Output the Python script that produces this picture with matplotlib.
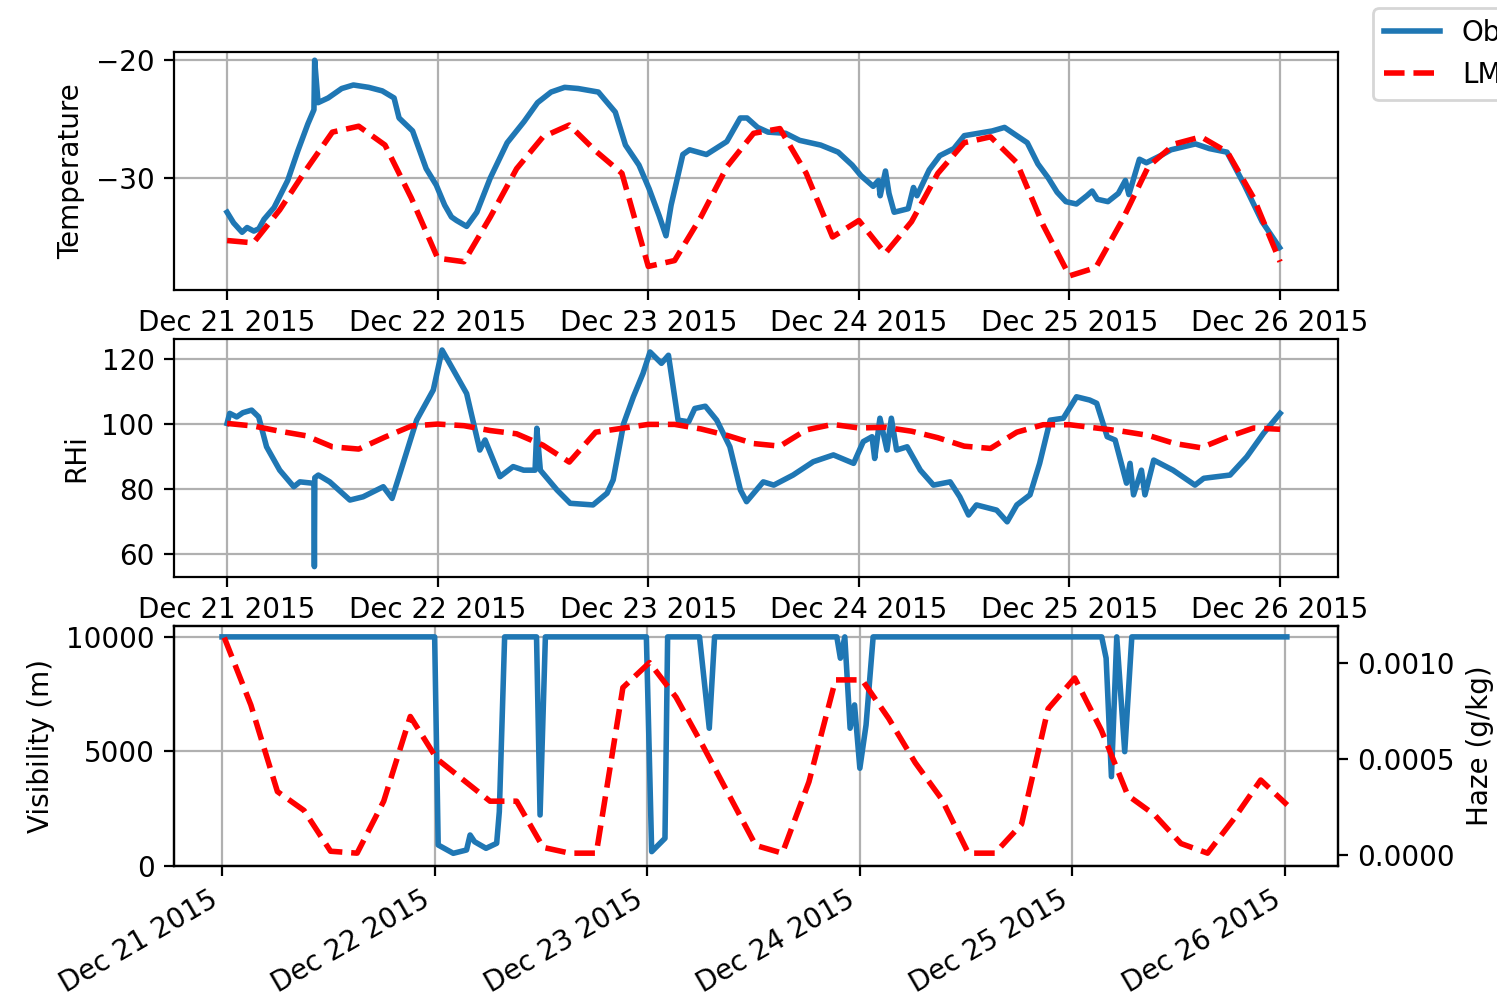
import numpy as np
import pandas as pd
import matplotlib
matplotlib.use('Agg')
import matplotlib.pyplot as plt
import matplotlib.dates as mdates

start = pd.Timestamp('2015-12-21')

# observed temperature (hours since start, degC)
obs_temp_h = [0.0, 0.74, 1.71, 2.28, 3.05, 3.62, 4.21, 5.36, 6.91, 8.06, 9.21, 9.90, 9.98, 10.37,
              11.52, 13.06, 14.40, 16.14, 17.68, 19.03, 19.60, 21.14, 22.69, 23.84, 24.80, 25.57,
              26.15, 27.30, 28.46, 29.99, 31.92, 33.85, 35.38, 36.92, 38.47, 40.01, 42.31, 44.24,
              45.40, 46.94, 48.09, 49.24, 50.02, 50.60, 51.94, 52.71, 54.63, 56.95, 58.48, 59.26,
              60.46, 61.65, 63.65, 65.25, 67.65, 69.64, 71.24, 72.24, 73.63, 74.23, 74.43, 75.03,
              75.43, 76.02, 77.62, 78.22, 78.62, 80.02, 81.22, 82.82, 84.01, 85.61, 87.20, 88.60,
              89.99, 91.19, 92.40, 93.59, 94.59, 95.59, 96.79, 97.98, 98.58, 99.18, 100.38,
              101.57, 102.37, 102.77, 103.97, 104.76, 106.37, 107.57, 110.36, 111.95, 113.95,
              115.94, 117.95, 119.94]
obs_temp = [-32.9, -33.8, -34.6, -34.2, -34.5, -34.3, -33.5, -32.5, -30.2, -27.7, -25.4, -24.2,
            -20.0, -23.6, -23.2, -22.4, -22.1, -22.3, -22.6, -23.2, -24.9, -26.0, -29.2, -30.6,
            -32.3, -33.3, -33.6, -34.1, -32.9, -30.0, -27.0, -25.2, -23.6, -22.7, -22.3, -22.4,
            -22.7, -24.4, -27.2, -28.9, -30.9, -33.2, -34.9, -32.3, -28.0, -27.6, -28.0, -26.9,
            -24.9, -24.9, -25.7, -26.1, -26.2, -26.8, -27.2, -27.8, -28.9, -29.8, -30.7, -30.2,
            -31.5, -29.4, -31.3, -32.9, -32.6, -30.8, -31.5, -29.3, -28.1, -27.5, -26.4, -26.2,
            -26.0, -25.7, -26.4, -27.0, -28.8, -30.0, -31.2, -32.0, -32.2, -31.5, -31.1, -31.8,
            -32.0, -31.3, -30.2, -31.4, -28.4, -28.7, -28.1, -27.6, -27.1, -27.5, -27.8, -30.6,
            -33.7, -35.9]

# model output, 3-hourly
model_h = [3 * k for k in range(41)]
model_temp = [-35.3, -35.5, -32.7, -29.3, -26.1, -25.6, -27.2, -31.7, -36.8, -37.1, -33.3,
              -29.2, -26.5, -25.5, -27.7, -29.6, -37.5, -37.0, -33.3, -29.0, -26.2, -25.8,
              -29.6, -35.0, -33.6, -36.4, -33.7, -29.6, -27.0, -26.5, -28.7, -34.0, -38.3,
              -37.6, -33.6, -29.0, -27.1, -26.5, -27.8, -31.7, -37.1]

# observed relative humidity over ice (%)
obs_rhi_h = [0.0, 0.3, 1.1, 1.8, 2.8, 3.6, 4.5, 6.0, 7.6, 8.3, 9.7, 9.9, 9.95, 10.0, 10.4, 11.7,
             14.0, 15.5, 17.8, 18.8, 19.7, 21.6, 23.5, 24.5, 25.8, 27.3, 28.8, 29.4, 31.1, 32.6,
             33.8, 35.1, 35.3, 35.7, 37.6, 39.1, 41.7, 43.3, 44.0, 45.2, 46.3, 47.4, 48.2, 49.5,
             50.3, 51.4, 52.6, 53.3, 54.5, 55.8, 57.3, 58.5, 59.2, 61.1, 62.3, 64.5, 66.8, 69.1,
             71.4, 72.5, 73.5, 73.8, 74.4, 75.2, 75.7, 76.3, 77.5, 79.0, 80.5, 82.4, 83.5, 84.5,
             85.4, 87.7, 88.9, 90.0, 91.5, 92.6, 93.8, 95.3, 96.8, 98.3, 99.1, 100.3, 101.2,
             102.5, 102.9, 103.3, 104.2, 104.6, 105.6, 107.8, 110.3, 111.3, 114.3, 116.2, 118.1,
             120.0]
obs_rhi = [100.2, 103.3, 102.2, 103.5, 104.3, 102.2, 93.0, 85.8, 80.7, 82.2, 81.8, 81.5, 56.1,
           83.5, 84.3, 82.2, 76.6, 77.6, 80.7, 77.1, 84.8, 101.2, 110.5, 122.8, 116.6, 109.4,
           92.0, 95.1, 83.8, 86.9, 85.8, 85.8, 98.7, 85.8, 79.7, 75.6, 75.1, 78.7, 82.8, 100.2,
           108.4, 115.6, 122.2, 118.7, 121.2, 101.2, 100.7, 104.8, 105.5, 101.2, 93.0, 79.7,
           76.1, 82.2, 81.2, 84.3, 88.4, 90.5, 87.9, 94.6, 96.1, 89.4, 101.8, 92.0, 101.8, 92.0,
           93.0, 85.8, 81.2, 82.2, 77.6, 72.0, 75.1, 73.5, 69.9, 75.1, 78.2, 87.9, 101.2, 101.8,
           108.4, 107.4, 106.4, 96.1, 95.1, 81.8, 87.9, 78.2, 85.8, 78.2, 88.9, 85.8, 81.2, 83.3,
           84.3, 89.9, 97.1, 103.3]
model_rhi = [100.2, 99.4, 97.8, 96.4, 93.0, 92.3, 96.0, 99.4, 100.0, 99.5, 98.0, 97.0, 93.5,
             88.3, 97.5, 98.7, 99.9, 99.9, 98.5, 96.5, 94.0, 93.2, 98.2, 99.9, 98.8, 99.0, 97.8,
             95.8, 93.2, 92.5, 97.5, 99.8, 99.8, 98.8, 97.8, 96.5, 94.0, 92.7, 96.0, 98.8, 98.4]

# observed visibility (m)
obs_vis_h = [0.0, 24.0, 24.4, 26.1, 27.6, 28.0, 28.5, 29.8, 31.0, 31.3, 31.9, 35.5, 35.9, 36.5,
             47.9, 48.5, 50.0, 50.3, 53.9, 55.0, 55.6, 69.4, 69.8, 70.3, 70.9, 71.4, 72.0, 72.7,
             73.5, 99.3, 99.8, 100.4, 101.0, 101.9, 102.7, 120.2]
obs_vis = [10000, 10000, 917, 554, 699, 1354, 1062, 772, 991, 2371, 10000, 10000, 2227, 10000,
           10000, 626, 1209, 10000, 10000, 6013, 10000, 10000, 9070, 10000, 6013, 7031, 4266,
           6157, 10000, 10000, 9070, 3900, 10000, 4991, 10000, 10000]

# modelled haze (g/kg), 3-hourly
model_haze = [0.00113, 0.00078, 0.00033, 0.000232, 0.00002, 0.00001, 0.00028, 0.00072, 0.00050,
              0.00039, 0.00028, 0.00028, 0.00004, 0.00001, 0.00001, 0.00087, 0.00100, 0.00082,
              0.00057, 0.00031, 0.00005, 0.00001, 0.00038, 0.00091, 0.00091, 0.00071, 0.00048,
              0.00029, 0.00001, 0.00001, 0.00016, 0.00076, 0.00092, 0.00065, 0.00031, 0.00021,
              0.00006, 0.00001, 0.00019, 0.00039, 0.00026]


def to_time(hours):
    return start + pd.to_timedelta(np.asarray(hours, dtype=float), unit='h')


fig = plt.figure(figsize=(1497 / 200, 997 / 200), dpi=200)
left, width = 174 / 1497, (1338 - 174) / 1497
ax1 = fig.add_axes([left, 1 - 290 / 997, width, 238 / 997])
ax2 = fig.add_axes([left, 1 - 577 / 997, width, 238 / 997])
ax3 = fig.add_axes([left, 1 - 866 / 997, width, 240 / 997])

date_fmt = mdates.DateFormatter('%b %d %Y')
ticks = to_time([0, 24, 48, 72, 96, 120])

# temperature
l_obs, = ax1.plot(to_time(obs_temp_h), obs_temp, color='C0', lw=2, label='Observations')
l_mod, = ax1.plot(to_time(model_h), model_temp, 'r--', lw=2, label='LMDZ')
ax1.set_ylabel('Temperature')
ax1.set_ylim(-39.5, -19.3)
ax1.set_yticks([-30, -20])

# RHi
ax2.plot(to_time(obs_rhi_h), obs_rhi, color='C0', lw=2)
ax2.plot(to_time(model_h), model_rhi, 'r--', lw=2)
ax2.set_ylabel('RHi')
ax2.set_ylim(52.9, 126.2)
ax2.set_yticks([60, 80, 100, 120])

for ax in (ax1, ax2):
    ax.set_xlim(to_time([-0.252 * 24, 5.275 * 24]))
    ax.set_xticks(ticks)
    ax.xaxis.set_major_formatter(date_fmt)
    ax.grid(True)

# visibility and haze
ax3.plot(to_time(obs_vis_h), obs_vis, color='C0', lw=2)
ax3.set_ylabel('Visibility (m)')
ax3.set_ylim(25, 10475)
ax3.set_yticks([0, 5000, 10000])
ax3.set_xlim(to_time([-0.226 * 24, 5.249 * 24]))
ax3.set_xticks(ticks)
ax3.xaxis.set_major_formatter(date_fmt)
ax3.grid(True)
plt.setp(ax3.get_xticklabels(), rotation=30, ha='right')

ax4 = ax3.twinx()
ax4.plot(to_time(np.array(model_h) + 0.25), model_haze, 'r--', lw=2)
ax4.set_ylabel('Haze (g/kg)')
ax4.set_ylim(-0.0000567, 0.00119)
ax4.set_yticks([0.0, 0.0005, 0.0010])
ax4.yaxis.set_major_formatter(matplotlib.ticker.FormatStrFormatter('%.4f'))

fig.legend(handles=[l_obs, l_mod], loc='upper left',
           bbox_to_anchor=(1373 / 1497, 1 - 8 / 997), borderaxespad=0)

fig.savefig('out.png', dpi=200)
